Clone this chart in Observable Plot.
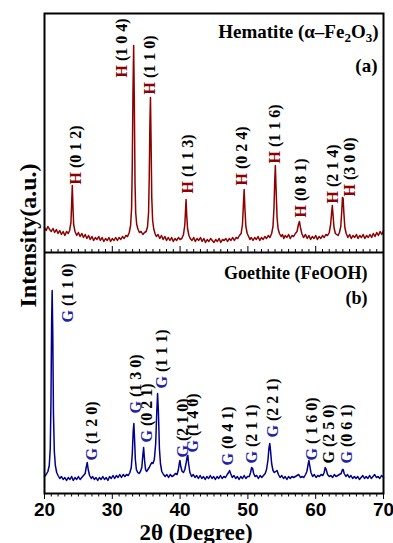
<!DOCTYPE html>
<html><head><meta charset="utf-8">
<script src="https://cdn.jsdelivr.net/npm/d3@7"></script>
<script src="https://cdn.jsdelivr.net/npm/@observablehq/plot@0.6"></script>
<style>
body{margin:0;background:#fff}
#chart svg{display:block;background:#fff}
#chart g[aria-label^="x-axis"] text{font-family:"Liberation Sans",Arial,sans-serif;font-weight:bold;font-size:19px;fill:#000}
</style></head><body><div id="chart"></div>
<script>
// 2θ (degree), intensity (a.u.)
const hematite = [[20,25],[20.25,22],[20.5,26],[20.75,23],[21,21],[21.25,24],[21.5,20],[21.75,23],[22,19],[22.25,22],[22.5,18],[22.75,21],[23,17],[23.25,21],[23.5,19],[23.7,22],[23.9,30],[24,48],[24.1,67],[24.2,45],[24.3,28],[24.5,21],[24.75,17],[25,20],[25.25,16],[25.5,19],[25.75,15],[26,18],[26.25,14],[26.5,17],[26.75,13],[27,16],[27.25,12],[27.5,15],[27.75,13],[28,16],[28.25,12],[28.5,15],[28.75,11],[29,14],[29.25,12],[29.5,15],[29.75,11],[30,14],[30.25,12],[30.5,15],[30.75,12],[31,15],[31.25,13],[31.5,16],[31.75,14],[32,17],[32.25,16],[32.5,20],[32.7,27],[32.85,45],[32.95,90],[33.05,160],[33.15,207],[33.25,150],[33.35,70],[33.45,40],[33.6,28],[33.8,23],[34,20],[34.25,21],[34.5,18],[34.75,20],[35,21],[35.2,26],[35.35,40],[35.45,75],[35.55,130],[35.63,155],[35.72,110],[35.82,55],[35.95,32],[36.1,24],[36.3,19],[36.5,16],[36.75,18],[37,14],[37.25,17],[37.5,13],[37.75,16],[38,12],[38.25,15],[38.5,12],[38.75,15],[39,11],[39.25,14],[39.5,12],[39.75,15],[40,13],[40.25,14],[40.5,18],[40.7,28],[40.8,42],[40.88,53],[40.97,38],[41.1,24],[41.3,17],[41.5,14],[41.75,12],[42,15],[42.25,11],[42.5,14],[42.75,12],[43,15],[43.25,11],[43.5,14],[43.75,10],[44,13],[44.25,11],[44.5,14],[44.75,12],[45,10],[45.25,13],[45.5,11],[45.75,14],[46,10],[46.25,13],[46.5,12],[46.75,14],[47,11],[47.25,14],[47.5,12],[47.75,15],[48,12],[48.25,15],[48.5,14],[48.75,17],[49,19],[49.2,28],[49.35,50],[49.45,63],[49.55,45],[49.7,26],[49.9,19],[50.1,16],[50.3,13],[50.5,15],[50.75,12],[51,15],[51.25,13],[51.5,16],[51.75,12],[52,15],[52.25,13],[52.5,16],[52.75,14],[53,17],[53.25,15],[53.5,19],[53.7,26],[53.85,45],[53.95,70],[54.05,87],[54.15,65],[54.3,35],[54.45,24],[54.65,19],[54.9,16],[55.1,18],[55.3,14],[55.5,17],[55.75,15],[56,18],[56.25,14],[56.5,17],[56.75,16],[57,19],[57.25,21],[57.45,28],[57.6,31],[57.75,25],[57.95,19],[58.2,15],[58.5,18],[58.75,14],[59,17],[59.25,13],[59.5,16],[59.75,14],[60,17],[60.25,13],[60.5,16],[60.75,14],[61,17],[61.25,15],[61.5,18],[61.75,17],[62,20],[62.2,28],[62.35,40],[62.45,47],[62.55,38],[62.7,25],[62.9,19],[63.1,18],[63.3,17],[63.5,20],[63.7,26],[63.85,42],[63.95,55],[64.05,54],[64.15,40],[64.3,25],[64.5,19],[64.75,15],[65,18],[65.25,14],[65.5,17],[65.75,15],[66,18],[66.25,14],[66.5,17],[66.75,15],[67,18],[67.25,14],[67.5,17],[67.75,15],[68,18],[68.25,15],[68.5,19],[68.75,16],[69,20],[69.25,17],[69.5,21],[69.75,18],[70,22]];

const goethite = [[20,17],[20.25,19],[20.5,22],[20.7,28],[20.85,45],[20.95,90],[21.05,170],[21.13,203],[21.22,160],[21.32,80],[21.45,42],[21.6,28],[21.8,21],[22,18],[22.25,15],[22.5,17],[22.75,14],[23,16],[23.25,13],[23.5,16],[23.75,14],[24,17],[24.25,13],[24.5,16],[24.75,14],[25,17],[25.25,14],[25.5,16],[25.75,18],[26,20],[26.15,26],[26.3,31],[26.45,24],[26.65,18],[26.9,15],[27.1,17],[27.35,14],[27.6,16],[27.85,13],[28.1,16],[28.35,14],[28.6,17],[28.85,14],[29.1,16],[29.35,13],[29.6,17],[29.85,15],[30.1,18],[30.35,15],[30.6,18],[30.85,16],[31.1,19],[31.35,16],[31.6,19],[31.85,17],[32.1,19],[32.35,18],[32.6,21],[32.8,26],[32.95,40],[33.08,62],[33.18,70],[33.28,55],[33.4,34],[33.55,24],[33.75,21],[33.95,20],[34.15,22],[34.35,26],[34.5,38],[34.62,46],[34.75,34],[34.9,24],[35.05,22],[35.25,24],[35.45,26],[35.65,29],[35.85,31],[36,30],[36.2,34],[36.4,50],[36.55,80],[36.68,100],[36.8,82],[36.95,45],[37.1,30],[37.3,22],[37.55,19],[37.8,17],[38.05,19],[38.3,16],[38.55,19],[38.8,17],[39.05,18],[39.3,20],[39.55,19],[39.75,24],[39.9,31],[39.98,33],[40.1,27],[40.3,22],[40.5,21],[40.7,24],[40.9,31],[41.05,37],[41.14,38],[41.25,30],[41.45,21],[41.7,17],[41.95,19],[42.2,16],[42.45,18],[42.7,15],[42.95,18],[43.2,15],[43.45,17],[43.7,14],[43.95,17],[44.2,15],[44.45,18],[44.7,15],[44.95,17],[45.2,14],[45.45,17],[45.7,15],[45.95,18],[46.2,15],[46.45,17],[46.7,16],[46.95,19],[47.15,21],[47.3,23],[47.45,20],[47.7,16],[47.95,18],[48.2,15],[48.45,17],[48.7,14],[48.95,17],[49.2,15],[49.45,18],[49.7,15],[49.95,17],[50.2,17],[50.4,21],[50.55,26],[50.7,25],[50.85,20],[51.05,17],[51.3,18],[51.55,15],[51.8,18],[52.05,16],[52.3,18],[52.55,20],[52.75,24],[52.95,33],[53.1,45],[53.23,50],[53.35,42],[53.5,30],[53.7,23],[53.9,21],[54.1,22],[54.3,23],[54.5,19],[54.75,16],[55,18],[55.25,15],[55.5,17],[55.75,14],[56,17],[56.25,15],[56.5,17],[56.75,16],[57,17],[57.25,18],[57.5,19],[57.75,16],[58,17],[58.25,16],[58.5,19],[58.7,22],[58.88,29],[59,33],[59.12,28],[59.3,21],[59.55,17],[59.8,19],[60.05,16],[60.3,18],[60.55,17],[60.8,19],[61.05,18],[61.25,21],[61.4,26],[61.55,24],[61.75,19],[62,17],[62.25,18],[62.5,16],[62.75,19],[63,17],[63.25,18],[63.5,19],[63.75,20],[63.95,24],[64.05,24],[64.2,20],[64.45,17],[64.7,19],[64.95,16],[65.2,18],[65.45,15],[65.7,17],[65.95,15],[66.2,17],[66.45,14],[66.7,16],[66.95,18],[67.2,15],[67.45,17],[67.7,15],[67.95,18],[68.2,15],[68.45,17],[68.7,19],[68.95,16],[69.2,17],[69.45,15],[69.7,18],[70,16]];

// peak labels: Miller indices, 2θ and intensity where each label begins
const hemHkl = ["(0 1 2)","(1 0 4)","(1 1 0)","(1 1 3)","(0 2 4)","(1 1 6)","(0 8 1)","(2 1 4)","(3 0 0)"];
const hemLabelTheta = [24.57, 31.36, 35.49, 41.09, 49.06, 53.92, 57.76, 62.48, 64.99];
const hemLabelAt = [68, 175, 158, 59, 67, 89, 35, 49, 56];

const goeHkl = ["(1 1 0)","(1 2 0)","(1 3 0)","(0 2 1)","(1 1 1)","(2 1 0)","(1 4 0)","(0 4 1)","(2 1 1)","(2 2 1)","( 1 6 0)","(2 5 0)","(0 6 1)"];
const goeLabelTheta = [23.47, 27.0, 33.42, 35.15, 37.36, 40.43, 41.9, 47.07, 50.53, 53.7, 59.48, 61.89, 64.65];
const goeLabelAt = [171, 33, 80, 51, 105, 36, 41, 28, 30, 56, 33, 30, 30];

const xTicks = [20, 30, 40, 50, 60, 70];
const minorTicks = d3.range(20, 71, 1);

const panelA = "Hematite (α–Fe2O3)";
const panelB = "Goethite (FeOOH)";

// layout: goethite panel occupies [0, 241], hematite panel [241, 480]
const splitAt = 241;
const yMax = 480;
const RED = "#8b0000", BLUE = "#000088", GBLUE = "#2323a6";
const serif = "Liberation Serif, Times New Roman, serif";

const hemLabels = hemHkl.map((h, i) => ({t: "H " + h, x: hemLabelTheta[i], y: hemLabelAt[i] + splitAt}));
const goeLabels = goeHkl.map((h, i) => ({t: "G " + h, x: goeLabelTheta[i], y: goeLabelAt[i]}));

const labelOpts = {x: "x", y: "y", text: "t", rotate: -90, textAnchor: "start", lineAnchor: "middle",
  fontSize: 16, fontWeight: "bold", fontFamily: serif, fill: "black"};

const plot = Plot.plot({
  width: 393, height: 543,
  marginLeft: 44, marginRight: 10, marginTop: 13, marginBottom: 50,
  style: {background: "#fff", overflow: "visible"},
  x: {domain: [20, 70], ticks: xTicks, tickSize: 6, tickPadding: 3, label: null},
  y: {domain: [0, yMax], axis: null},
  marks: [
    Plot.line(goethite, {x: d => d[0], y: d => d[1], stroke: BLUE, strokeWidth: 1.5}),
    Plot.line(hematite, {x: d => d[0], y: d => d[1] + splitAt, stroke: RED, strokeWidth: 1.5}),
    Plot.ruleX(minorTicks.filter(v => v % 10), {x: d => d, y1: splitAt, y2: splitAt + 3, stroke: "black"}),
    Plot.ruleX(xTicks, {x: d => d, y1: splitAt, y2: splitAt + 6, stroke: "black"}),
    Plot.ruleX(minorTicks.filter(v => v % 10), {x: d => d, y1: 0, y2: -3.5, stroke: "black"}),
    Plot.ruleY([splitAt], {stroke: "black", strokeWidth: 2}),
    Plot.frame({stroke: "black", strokeWidth: 2}),
    Plot.text(hemLabels, labelOpts),
    Plot.text(goeLabels, labelOpts),
    Plot.text([panelA], {text: d => d, frameAnchor: "top-right", dx: -5, dy: 24.7, textAnchor: "end", lineAnchor: "bottom", fontSize: 19, fontWeight: "bold", fontFamily: serif, fill: "black"}),
    Plot.text(["(a)"], {text: d => d, frameAnchor: "top-right", dx: -6, dy: 58.7, textAnchor: "end", lineAnchor: "bottom", fontSize: 19, fontWeight: "bold", fontFamily: serif, fill: "black"}),
    Plot.text([panelB], {text: d => d, frameAnchor: "top-right", dx: -16, dy: 265.3, textAnchor: "end", lineAnchor: "bottom", fontSize: 18, fontWeight: "bold", fontFamily: serif, fill: "black"}),
    Plot.text(["(b)"], {text: d => d, frameAnchor: "top-right", dx: -16, dy: 290.3, textAnchor: "end", lineAnchor: "bottom", fontSize: 18, fontWeight: "bold", fontFamily: serif, fill: "black"}),
    Plot.text(["2θ (Degree)"], {text: d => d, frameAnchor: "bottom", dx: -18, dy: 46, textAnchor: "middle", lineAnchor: "bottom", fontSize: 23, fontWeight: "bold", fontFamily: serif, fill: "black"}),
    Plot.text(["Intensity(a.u.)"], {text: d => d, frameAnchor: "left", dx: -9, dy: -18, rotate: -90, textAnchor: "middle", lineAnchor: "bottom", fontSize: 24, fontWeight: "bold", fontFamily: serif, fill: "black"})
  ]
});
document.getElementById("chart").appendChild(plot);

// colour the phase letter of each peak label; subscripts in the hematite formula
const plainLetter = new Set(["(2 5 0)"]);
d3.select(plot).selectAll("text").each(function () {
  const s = this.textContent;
  const m = /^([HG]) (\(.*)$/.exec(s);
  if (m) {
    const c = m[1] === "H" ? RED : (plainLetter.has(m[2]) ? "black" : GBLUE);
    this.textContent = "";
    d3.select(this).append("tspan").attr("fill", c).text(m[1]);
    d3.select(this).append("tspan").text(" " + m[2]);
  } else if (s === panelA) {
    this.textContent = "";
    const t = d3.select(this);
    t.append("tspan").text("Hematite (α–Fe");
    t.append("tspan").attr("dy", 4).attr("font-size", 13).text("2");
    t.append("tspan").attr("dy", -4).text("O");
    t.append("tspan").attr("dy", 4).attr("font-size", 13).text("3");
    t.append("tspan").attr("dy", -4).text(")");
  }
});
</script></body></html>
